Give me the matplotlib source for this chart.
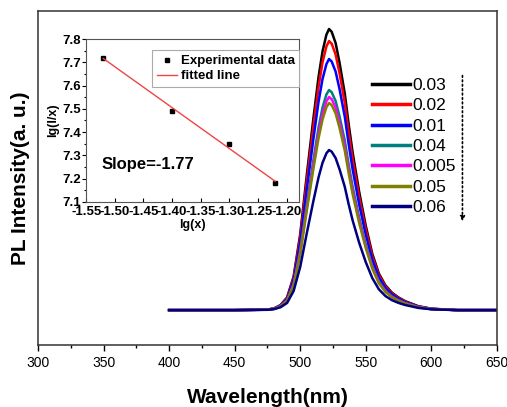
import numpy as np
import matplotlib
matplotlib.use("Agg")
import matplotlib.pyplot as plt
from matplotlib.ticker import MultipleLocator

plt.rcParams['font.family'] = ['Liberation Sans', 'DejaVu Sans']

# PL spectra: wavelength grid and normalised band shape
wavelength = [400, 450, 475, 480, 485, 490, 495, 500, 505, 510, 514, 517,
              520, 522, 524, 527, 530, 534, 537, 540, 545, 550, 555, 560,
              565, 570, 575, 580, 590, 600, 620, 650]
profile = [0.0, 0.0, 0.002, 0.006, 0.018, 0.045, 0.12, 0.27, 0.48, 0.68,
           0.83, 0.92, 0.98, 1.0, 0.99, 0.95, 0.88, 0.77, 0.66, 0.56,
           0.42, 0.30, 0.20, 0.13, 0.088, 0.062, 0.045, 0.032, 0.014,
           0.005, 0.0, 0.0]

labels = ["0.03", "0.02", "0.01", "0.04", "0.005", "0.05", "0.06"]
peaks = [281, 269, 251, 220, 213, 207, 160]
colors = ["#000000", "#ff0000", "#0000ff", "#008080", "#ff00ff", "#808000", "#000080"]

# inset: lg(x) vs lg(I/x)
lgx = [-1.52, -1.40, -1.30, -1.22]
lgIx = [7.72, 7.49, 7.35, 7.18]

fig = plt.figure(figsize=(5.07, 4.07), dpi=100)
ax = fig.add_axes([0.075, 0.152, 0.905, 0.821])

wl = np.array(wavelength)
prof = np.array(profile)
for lab, pk, c in zip(labels, peaks, colors):
    ax.plot(wl, pk * prof, color=c, lw=1.8, label=lab)

ax.set_xlim(300, 650)
ax.set_ylim(-35, 299)
ax.xaxis.set_major_locator(MultipleLocator(50))
ax.xaxis.set_minor_locator(MultipleLocator(25))
ax.tick_params(axis='x', which='major', direction='out', length=4, width=1, labelsize=10, pad=4)
ax.tick_params(axis='x', which='minor', direction='out', length=2.5, width=1)
ax.set_yticks([])
for s in ax.spines.values():
    s.set_color('#333333')
    s.set_linewidth(1.1)

ax.set_xlabel("Wavelength(nm)", fontsize=15, fontweight='bold', labelpad=13)
ax.set_ylabel("PL Intensity(a. u.)", fontsize=15, fontweight='bold', labelpad=6)

leg = ax.legend(loc='upper left', bbox_to_anchor=(0.728, 0.80), frameon=False,
                fontsize=12.5, handlelength=2.2, handletextpad=0.15,
                labelspacing=0.3, borderpad=0, borderaxespad=0)
for h in leg.get_lines():
    h.set_linewidth(2.5)

ax.annotate("", xy=(0.925, 0.362), xytext=(0.925, 0.815), xycoords='axes fraction',
            arrowprops=dict(arrowstyle='-|>', linestyle=':', color='black', lw=1.2,
                            mutation_scale=7))

# inset
ins = fig.add_axes([0.170, 0.504, 0.420, 0.400])
ins.plot(lgx, lgIx, 's', color='black', ms=2.5, label="Experimental data")
k, b = np.polyfit(lgx, lgIx, 1)
xf = np.array([lgx[0], lgx[-1]])
ins.plot(xf, k * xf + b, color='#ee4444', lw=1.0, label="fitted line")
ins.set_xlim(-1.55, -1.178)
ins.set_ylim(7.1, 7.8)
ins.xaxis.set_major_locator(MultipleLocator(0.05))
ins.yaxis.set_major_locator(MultipleLocator(0.1))
ins.yaxis.set_minor_locator(MultipleLocator(0.05))
ins.xaxis.set_major_formatter(plt.FormatStrFormatter('%.2f'))
ins.yaxis.set_major_formatter(plt.FormatStrFormatter('%.1f'))
ins.tick_params(axis='y', direction='out', length=3, width=0.8, labelsize=9.5, pad=1)
ins.tick_params(axis='y', which='minor', direction='out', length=1.5, width=0.8)
ins.tick_params(axis='x', direction='in', length=3, width=0.8, labelsize=9.5, pad=3)
for t in ins.get_xticklabels() + ins.get_yticklabels():
    t.set_fontweight('bold')
for s in ins.spines.values():
    s.set_color('#555555')
    s.set_linewidth(0.8)
ins.set_ylabel("lg(I/x)", fontsize=9, fontweight='bold', labelpad=2)
ins.set_xlabel("lg(x)", fontsize=9, fontweight='bold', labelpad=1)
ins.text(0.07, 0.227, "Slope=-1.77", transform=ins.transAxes, fontsize=12,
         fontweight='bold', va='center')
il = ins.legend(loc='upper right', bbox_to_anchor=(1.0, 0.93),
                prop={'weight': 'bold', 'size': 9.5}, fancybox=False,
                edgecolor='#aaaaaa', handlelength=1.5, handletextpad=0.3,
                borderpad=0.35, labelspacing=0.2, borderaxespad=0,
                framealpha=1)
il.get_frame().set_linewidth(0.8)

fig.savefig("out.png", dpi=100)
